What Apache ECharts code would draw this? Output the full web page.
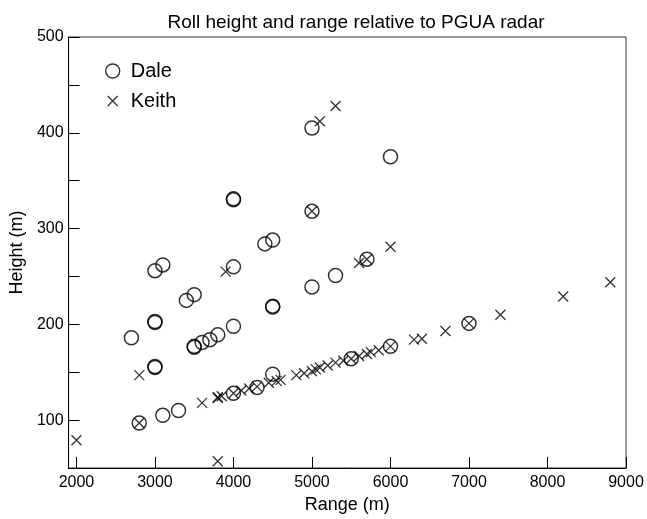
<!DOCTYPE html>
<html>
<head>
<meta charset="utf-8">
<script src="https://cdn.jsdelivr.net/npm/echarts@6/dist/echarts.min.js"></script>
<style>
html,body{margin:0;padding:0;background:#fff;}
#chart{width:647px;height:519px;}
</style>
</head>
<body>
<div id="chart"></div>
<script>
const titleText = 'Roll height and range relative to PGUA radar';
const xTicks = [2000, 3000, 4000, 5000, 6000, 7000, 8000, 9000];
const yTicks = [100, 200, 300, 400, 500];

const daleRange  = [2700, 2800, 3000, 3000, 3000, 3000, 3000, 3100, 3100, 3300, 3400, 3500, 3500, 3500, 3600, 3700, 3800, 4000, 4000, 4000, 4000, 4000, 4300, 4400, 4500, 4500, 4500, 4500, 5000, 5000, 5000, 5300, 5500, 5700, 6000, 6000, 7000];
const daleHeight = [186,  97,   256,  202,  203,  156,  155,  262,  105,  110,  225,  231,  177,  176,  181,  184,  189,  330,  331,  260,  198,  128,  134,  284,  288,  219,  218,  148,  405,  318,  239,  251,  164,  268,  375,  177,  201];

const keithRange  = [2000, 2800, 2800, 3600, 3800, 3800, 3800, 3850, 3900, 4000, 4100, 4200, 4300, 4450, 4550, 4600, 4800, 4900, 5000, 5000, 5050, 5100, 5100, 5200, 5300, 5300, 5400, 5500, 5600, 5600, 5700, 5700, 5750, 5850, 6000, 6000, 6300, 6400, 6700, 7000, 7400, 8200, 8800];
const keithHeight = [79,   97,   147,  118,  57,   123,  124,  125,  255,  128,  131,  133,  135,  139,  141,  142,  147,  149,  151,  318,  153,  155,  412,  157,  160,  428,  162,  164,  167,  264,  169,  268,  171,  173,  177,  281,  184,  185,  193,  201,  210,  229,  244];

const dale = daleRange.map((r, i) => [r, daleHeight[i]]);
const keith = keithRange.map((r, i) => [r, keithHeight[i]]);

const crossPath = 'path://M0,0L10,10M0,10L10,0';
const crossLegendPath = 'path://M0,0M14,14M2,2L12,12M2,12L12,2';
const font = 'Liberation Sans, Arial, Helvetica, sans-serif';

const chart = echarts.init(document.getElementById('chart'), null, {renderer: 'canvas'});
chart.setOption({
  backgroundColor: '#fff',
  animation: false,
  title: {
    text: titleText,
    left: 351, top: 8, textAlign: 'center',
    textStyle: {fontFamily: font, fontSize: 19, fontWeight: 'normal', color: '#000'}
  },
  legend: {
    orient: 'vertical',
    left: 100, top: 56,
    itemWidth: 26, itemHeight: 14, itemGap: 10,
    textStyle: {fontFamily: font, fontSize: 20, color: '#000'},
    data: [
      {name: 'Dale', icon: 'circle', itemStyle: {color: 'transparent', borderColor: '#000', borderWidth: 1.4}},
      {name: 'Keith', icon: crossLegendPath, itemStyle: {color: 'transparent', borderColor: '#000', borderWidth: 1.3}}
    ]
  },
  grid: {
    left: 67, right: 21, top: 37, bottom: 47,
    show: true, borderColor: '#333', borderWidth: 1, backgroundColor: 'transparent'
  },
  xAxis: {
    type: 'value', min: 1900, max: 9000,
    name: 'Range (m)', nameLocation: 'middle', nameGap: 28,
    nameTextStyle: {fontFamily: font, fontSize: 18, color: '#000'},
    axisLine: {show: true, onZero: false, lineStyle: {color: '#000', width: 1}},
    axisTick: {show: true, inside: true, length: 11, customValues: xTicks, lineStyle: {color: '#000'}},
    axisLabel: {customValues: xTicks, fontFamily: font, fontSize: 16, color: '#000', margin: 7,
      formatter: v => String(v)},
    splitLine: {show: false}
  },
  yAxis: {
    type: 'value', min: 50, max: 500, interval: 50,
    name: 'Height (m)', nameLocation: 'middle', nameGap: 39, nameRotate: 90,
    nameTextStyle: {fontFamily: font, fontSize: 18, color: '#000'},
    axisLine: {show: true, onZero: false, lineStyle: {color: '#000', width: 1}},
    axisTick: {show: true, inside: true, length: 11, lineStyle: {color: '#000'}},
    axisLabel: {
      fontFamily: font, fontSize: 16, color: '#000', margin: 5,
      formatter: v => (yTicks.indexOf(v) >= 0 ? String(v) : '')
    },
    splitLine: {show: false}
  },
  series: [
    {
      name: 'Dale', type: 'scatter', data: dale,
      symbol: 'circle', symbolSize: 14,
      itemStyle: {color: 'transparent', borderColor: '#000', borderWidth: 1.5}
    },
    {
      name: 'Keith', type: 'scatter', data: keith,
      symbol: crossPath, symbolSize: 10,
      itemStyle: {color: 'transparent', borderColor: '#000', borderWidth: 1.3}
    }
  ]
});
</script>
</body>
</html>
